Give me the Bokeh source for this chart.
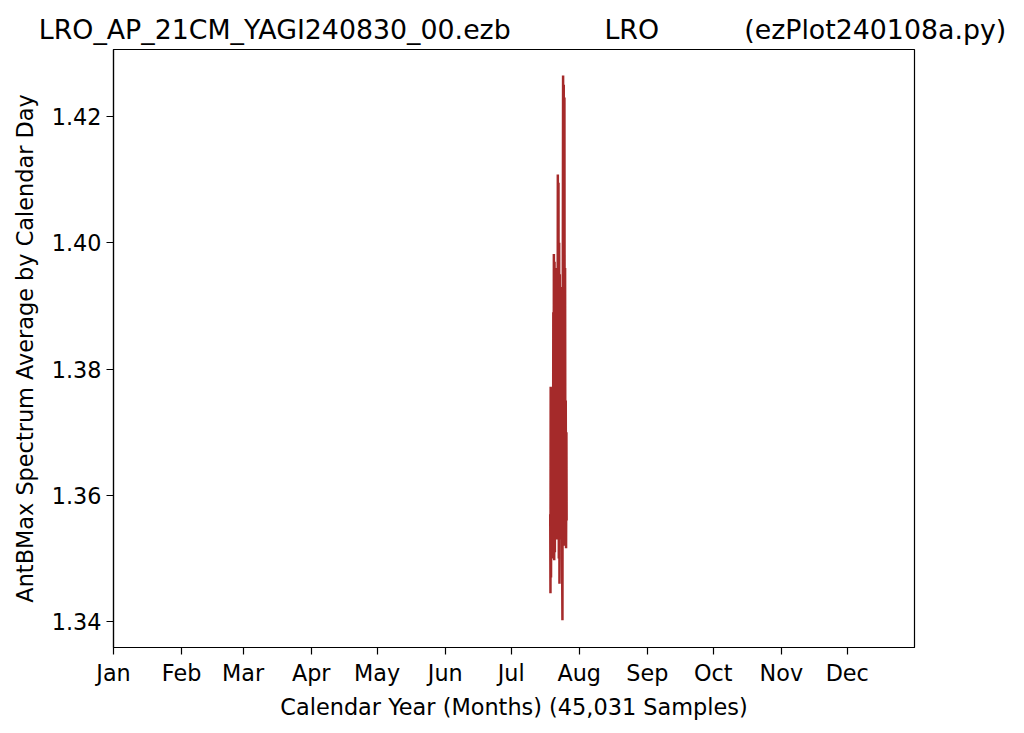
from bokeh.plotting import figure
from bokeh.models import FixedTicker, Range1d
from bokeh.embed import file_html
from bokeh.resources import INLINE

# Calendar day (day of year) and AntBMax spectrum average samples
days = [199.8, 199.9, 200.0, 200.15, 200.3, 200.45, 200.6, 200.75, 200.9, 201.05,
        201.2, 201.35, 201.45, 201.6, 201.75, 201.9, 202.05, 202.2, 202.35, 202.5,
        202.65, 202.8, 202.95, 203.1, 203.25, 203.4, 203.55, 203.7, 203.85, 204.0,
        204.15, 204.3, 204.45, 204.6, 204.75, 204.9, 205.05, 205.2, 205.35, 205.5,
        205.65, 205.8, 205.95, 206.1, 206.25, 206.4, 206.55, 206.7, 206.85, 207.0,
        207.15, 207.25]
values = [1.3570, 1.3445, 1.3772, 1.3470, 1.3768, 1.3500, 1.3760, 1.3520, 1.3750, 1.3530,
          1.3890, 1.3520, 1.3982, 1.3497, 1.3970, 1.3510, 1.3960, 1.3530, 1.3920, 1.3540,
          1.3940, 1.3530, 1.3960, 1.3560, 1.4108, 1.3530, 1.4095, 1.3500, 1.4000, 1.3460,
          1.3950, 1.3540, 1.3930, 1.3560, 1.3925, 1.3530, 1.3900, 1.3500, 1.3402, 1.3900,
          1.4265, 1.3520, 1.4250, 1.3540, 1.4230, 1.3560, 1.3960, 1.3520, 1.3750, 1.3516,
          1.3700, 1.3560]

month_days = [1, 32, 60, 91, 121, 152, 182, 213, 244, 274, 305, 335]
month_labels = ["Jan", "Feb", "Mar", "Apr", "May", "Jun",
                "Jul", "Aug", "Sep", "Oct", "Nov", "Dec"]
y_ticks = [1.34, 1.36, 1.38, 1.40, 1.42]

NB = "\u00a0"
title_text = (NB * 2 + "LRO_AP_21CM_YAGI240830_00.ezb" + NB * 11 + "LRO" + NB * 10 + "(ezPlot240108a.py)")

FONT = "DejaVu Sans"

p = figure(width=1020, height=730, output_backend="svg", toolbar_location=None,
           x_range=Range1d(1, 365.6), y_range=Range1d(1.3359, 1.4306),
           min_border_left=113, min_border_right=106, min_border_top=49, min_border_bottom=83,
           title=title_text)

p.line(days, values, line_color="#a52a2a", line_width=2.5)

p.title.text_font = FONT
p.title.text_font_size = "26.8px"
p.title.text_font_style = "normal"
p.title.align = "center"
p.title.text_color = "black"

p.xgrid.visible = False
p.ygrid.visible = False
p.outline_line_color = "black"
p.outline_line_width = 1.2

for ax in (p.xaxis[0], p.yaxis[0]):
    ax.major_label_text_font = FONT
    ax.major_label_text_font_size = "22.3px"
    ax.major_label_text_color = "black"
    ax.axis_label_text_font = FONT
    ax.axis_label_text_font_size = "22.4px"
    ax.axis_label_text_font_style = "normal"
    ax.axis_label_text_color = "black"
    ax.major_tick_in = 0
    ax.major_tick_out = 7
    ax.minor_tick_in = 0
    ax.minor_tick_out = 0
    ax.axis_line_color = "black"
    ax.axis_line_width = 1.2
    ax.major_tick_line_color = "black"
    ax.major_tick_line_width = 1.2

p.yaxis.axis_label_standoff = 11

p.xaxis.ticker = FixedTicker(ticks=month_days)
p.xaxis.major_label_overrides = {d: m for d, m in zip(month_days, month_labels)}
p.xaxis.axis_label = "Calendar Year (Months) (45,031 Samples)"

p.yaxis.ticker = FixedTicker(ticks=y_ticks)
p.yaxis.major_label_overrides = {t: f"{t:.2f}" for t in y_ticks}
p.yaxis.axis_label = "AntBMax Spectrum Average by Calendar Day"

open("out.html", "w").write(file_html(p, INLINE))
